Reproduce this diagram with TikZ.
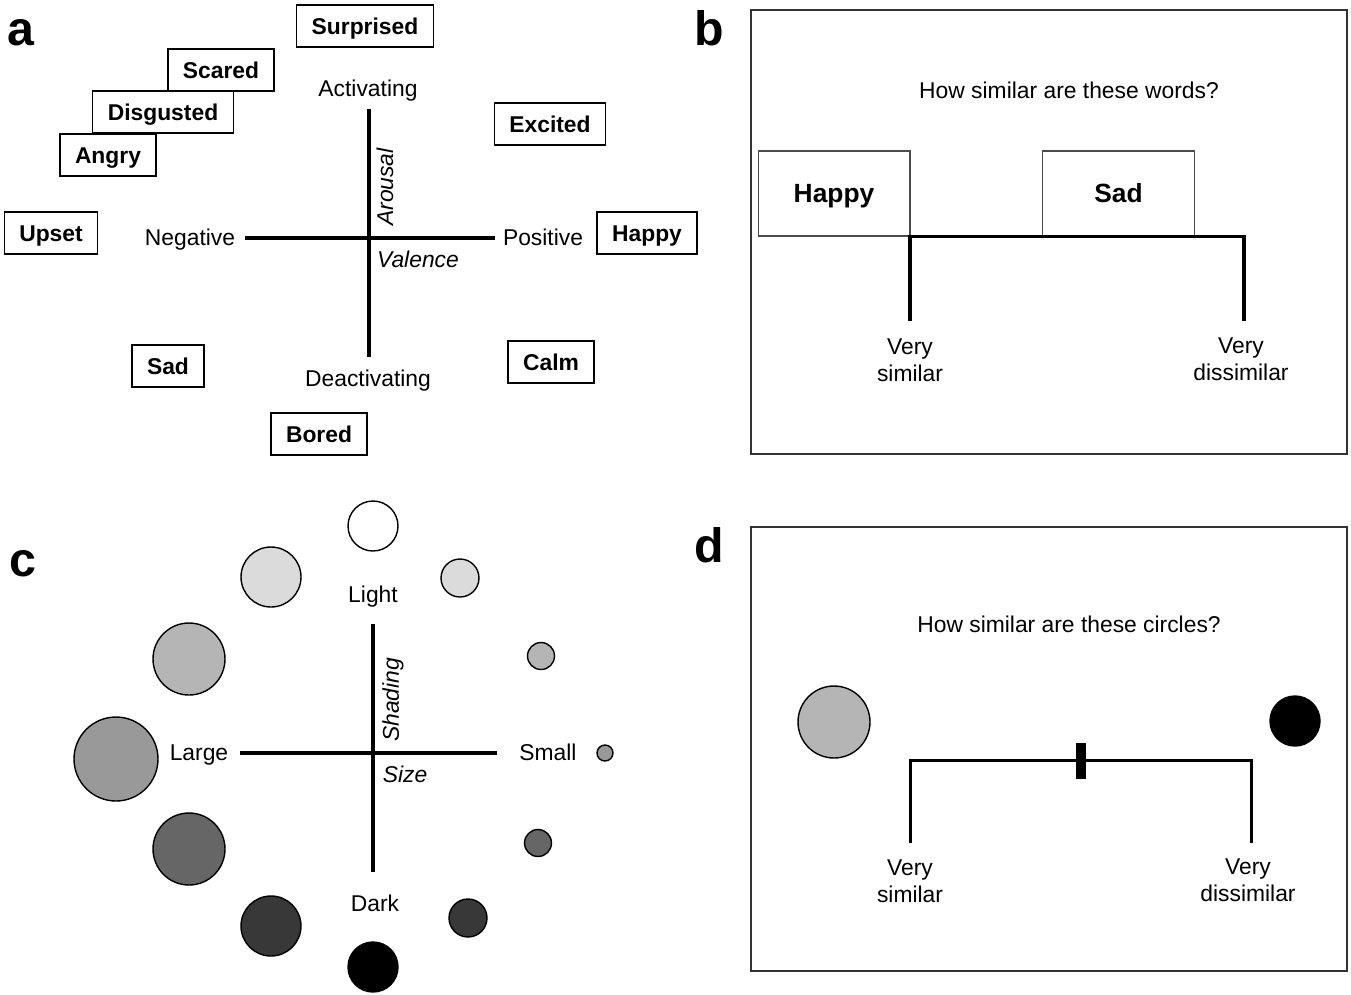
\documentclass[tikz,border=0pt]{standalone}
\usepackage{fontspec}
\setmainfont{Liberation Sans}
\usetikzlibrary{positioning}
\definecolor{shadeA}{gray}{0.86}
\definecolor{shadeB}{gray}{0.71}
\definecolor{shadeC}{gray}{0.60}
\definecolor{shadeD}{gray}{0.40}
\definecolor{shadeE}{gray}{0.22}
\tikzstyle{word} = [draw, line width=0.75pt, font=\bfseries\fontsize{13}{15.6}\selectfont, inner xsep=0.3cm, text height=9.3pt, text depth=0pt, minimum height=0.84cm]
\tikzstyle{card} = [draw, black!70, text=black, line width=0.6pt, font=\bfseries\fontsize{15}{18}\selectfont, text height=10.7pt, text depth=0pt, minimum width=3.04cm, minimum height=1.7cm]
\tikzstyle{axis} = [line width=2.1pt]
\tikzstyle{ruler} = [line width=2pt]
\tikzstyle{dot} = [circle, draw, line width=0.8pt, inner sep=0pt]
\tikzstyle{frame} = [draw, line width=0.9pt, black!80]
\tikzstyle{panel} = [font=\bfseries\fontsize{27.5}{32}\selectfont]
\tikzstyle{axlabel} = [font=\itshape\fontsize{13}{15.6}\selectfont]

\begin{document}
\begin{tikzpicture}[x=0.02cm, y=-0.02cm,
  every node/.style={font=\fontsize{13}{15.6}\selectfont}]
 \useasboundingbox (0,0) rectangle (1351,994);

 % a: words on valence / arousal
 \node[panel] (la) at (21,32.5) {a};
 \node[word] (surprised) at (365,26) {Surprised};
 \node[word] (scared) at (221,70) {Scared};
 \node[word] (disgusted) at (163,112) {Disgusted};
 \node[word] (angry) at (108,155) {Angry};
 \node[word] (upset) at (51,233) {Upset};
 \node[word] (excited) at (550,124) {Excited};
 \node[word] (happya) at (647,233) {Happy};
 \node[word] (sada) at (168,366) {Sad};
 \node[word] (calm) at (551,362) {Calm};
 \node[word] (bored) at (319,434) {Bored};

 \coordinate (aTop) at (369,109);
 \coordinate (aBot) at (369,357);
 \coordinate (aLeft) at (245,238);
 \coordinate (aRight) at (495,238);
 \draw[axis] (aTop) -- (aBot);
 \draw[axis] (aLeft) -- (aRight);
 \node (act) at (368,91) {Activating};
 \node (deact) at (368,381) {Deactivating};
 \node (neg) at (190,240) {Negative};
 \node (pos) at (543,237) {Positive};
 \node[axlabel, rotate=90] (arousal) at (385,187) {Arousal};
 \node[axlabel] (valence) at (418,259) {Valence};

 % b: word rating
 \draw[frame] (751,10) rectangle (1347,454);
 \node[panel] (lb) at (709,28.5) {b};
 \node (qb) at (1069,90) {How similar are these words?};
 \node[card] (happyb) at (834,193.5) {Happy};
 \node[card] (sadb) at (1118.5,193.5) {Sad};
 \coordinate (bL) at (910,236.5);
 \coordinate (bR) at (1244,236.5);
 \coordinate (bLd) at (910,321);
 \coordinate (bRd) at (1244,321);
 \draw[ruler] (bLd) -- (bL) -- (bR) -- (bRd);
 \node[align=center] (vsb) at (910,360) {Very\\similar};
 \node[align=center] (vdb) at (1241,359) {Very\\dissimilar};

 % c: circles on size / shading
 \node[panel] (lc) at (23,563.5) {c};
 \node[dot, fill=white, minimum size=1.0cm] (c1) at (373,526) {};
 \node[dot, fill=shadeA, minimum size=1.2cm] (c2) at (271,577) {};
 \node[dot, fill=shadeA, minimum size=0.76cm] (c3) at (460,578) {};
 \node[dot, fill=shadeB, minimum size=1.44cm] (c4) at (189,659) {};
 \node[dot, fill=shadeB, minimum size=0.54cm] (c5) at (541,656) {};
 \node[dot, fill=shadeC, minimum size=1.68cm] (c6) at (116,759) {};
 \node[dot, fill=shadeC, minimum size=0.32cm] (c7) at (605,753) {};
 \node[dot, fill=shadeD, minimum size=1.44cm] (c8) at (189,849) {};
 \node[dot, fill=shadeD, minimum size=0.54cm] (c9) at (538,843) {};
 \node[dot, fill=shadeE, minimum size=1.2cm] (c10) at (271,926) {};
 \node[dot, fill=shadeE, minimum size=0.76cm] (c11) at (468,918) {};
 \node[dot, fill=black, minimum size=1.0cm] (c12) at (373,967) {};

 \coordinate (cTop) at (373,624);
 \coordinate (cBot) at (373,872);
 \coordinate (cLeft) at (240,753);
 \coordinate (cRight) at (497,753);
 \draw[axis, line width=1.8pt] (cTop) -- (cBot);
 \draw[axis, line width=1.8pt] (cLeft) -- (cRight);
 \node (light) at (373,597) {Light};
 \node (dark) at (375,903) {Dark};
 \node (large) at (199,755) {Large};
 \node (small) at (548,752) {Small};
 \node[axlabel, rotate=90] (shading) at (393,700) {Shading};
 \node[axlabel] (size) at (405,774) {Size};

 % d: circle rating
 \draw[frame] (751,527) rectangle (1347,971);
 \node[panel] (ld) at (709,545.5) {d};
 \node (qd) at (1069,624) {How similar are these circles?};
 \node[dot, fill=shadeB, minimum size=1.44cm] (dl) at (834,722) {};
 \node[dot, fill=black, minimum size=1.0cm] (dr) at (1295,721) {};
 \coordinate (dL) at (910,760);
 \coordinate (dR) at (1251,760);
 \coordinate (dLd) at (910,843);
 \coordinate (dRd) at (1251,843);
 \draw[ruler, line width=1.7pt] (dLd) -- (dL) -- (dR) -- (dRd);
 \node[fill=black, inner sep=0pt, minimum width=0.2cm, minimum height=0.72cm] (pick) at (1081,761) {};
 \node[align=center] (vsd) at (910,881) {Very\\similar};
 \node[align=center] (vdd) at (1248,880) {Very\\dissimilar};
\end{tikzpicture}
\end{document}
